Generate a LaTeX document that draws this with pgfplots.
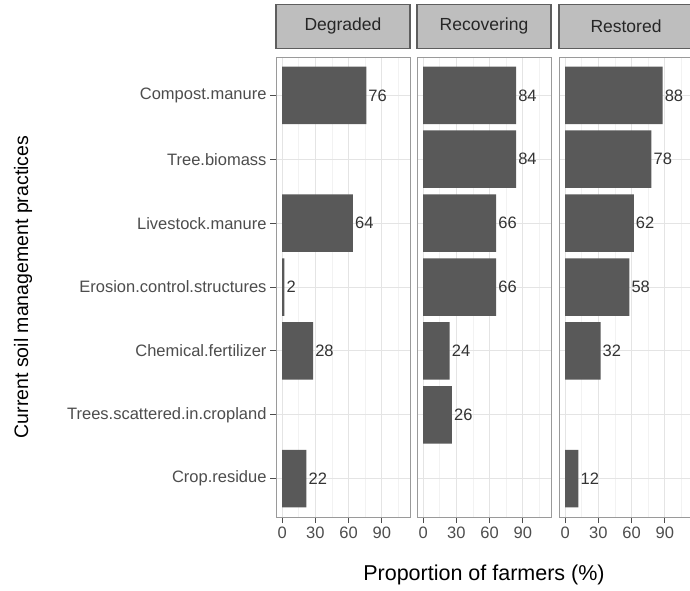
\documentclass[border=0pt]{standalone}
\usepackage{fontspec}
\setmainfont{Liberation Sans}
\usepackage{pgfplots}
\pgfplotsset{compat=1.18}
\definecolor{barc}{HTML}{595959}
\definecolor{stripf}{HTML}{BEBEBE}
\definecolor{stripd}{HTML}{5E5E5E}
\definecolor{panelb}{HTML}{9A9A9A}
\definecolor{majg}{HTML}{E4E4E4}
\definecolor{ming}{HTML}{F2F2F2}
\definecolor{txt}{HTML}{4D4D4D}
\pgfplotsset{
 facet/.style={
  scale only axis, width=134pt, height=460pt,
  xmin=-5.5, xmax=115.5, ymin=0.4, ymax=7.6,
  xtick={0,30,60,90}, minor xtick={15,45,75,105},
  ytick={1,...,7},
  grid=both,
  major grid style={draw=majg, line width=0.8pt},
  minor grid style={draw=ming, line width=0.6pt},
  axis line style={draw=panelb, line width=1pt},
  tick style={draw=txt, line width=0.8pt},
  major tick length=6pt,
  minor tick length=0pt,
  tick align=outside,
  xtick pos=bottom, ytick pos=left,
  /pgf/number format/assume math mode=true,
  tick label style={font=\fontsize{16.5}{19}\selectfont, text=txt},
  xbar, bar width=0.9, bar shift=0pt,
  title style={at={(0.5,1)}, anchor=south, yshift=2pt, fill=stripf, draw=stripd, line width=1.5pt, minimum width=134pt, minimum height=44pt, inner sep=0pt, font=\fontsize{17.5}{20}\selectfont, text=black!85},
  nodes near coords,
  nodes near coords style={anchor=west, font=\fontsize{16.5}{19}\selectfont, text=black!80, inner sep=2pt},
 }
}
\begin{document}
\begin{tikzpicture}
\path[use as bounding box, clip] (0,0) rectangle (690pt,-590pt);
\fill[white] (0,0) rectangle (690pt,-590pt);
\begin{axis}[facet, at={(276pt,-57pt)}, anchor=north west, title={Degraded},
  yticklabels={Crop.residue,Trees.scattered.in.cropland,Chemical.fertilizer,Erosion.control.structures,Livestock.manure,Tree.biomass,Compost.manure}]
\addplot[fill=barc, draw=none] coordinates {(76,7) (64,5) (2,4) (28,3) (22,1)};
\end{axis}
\begin{axis}[facet, at={(417pt,-57pt)}, anchor=north west, title={Recovering},
  yticklabels={}, y tick style={draw=none}]
\addplot[fill=barc, draw=none] coordinates {(84,7) (84,6) (66,5) (66,4) (24,3) (26,2)};
\end{axis}
\begin{axis}[facet, at={(559pt,-57pt)}, anchor=north west, title={Restored},
  yticklabels={}, y tick style={draw=none}]
\addplot[fill=barc, draw=none] coordinates {(88,7) (78,6) (62,5) (58,4) (32,3) (12,1)};
\end{axis}
\node[font=\fontsize{21.5}{25}\selectfont] at (484pt,-575pt) {Proportion of farmers (\%)};
\node[font=\fontsize{19.5}{23}\selectfont, rotate=90] at (23pt,-287pt) {Current soil management practices};
\end{tikzpicture}
\end{document}
